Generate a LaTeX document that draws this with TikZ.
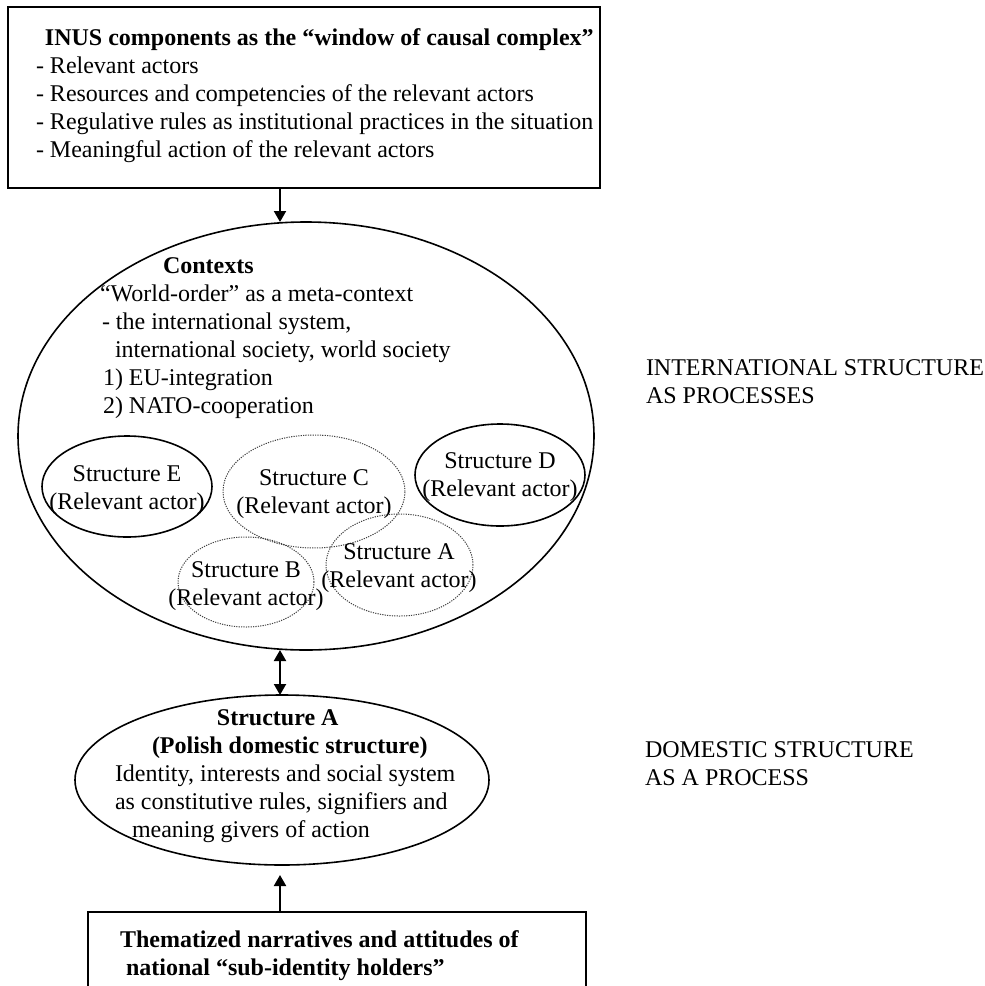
\documentclass[tikz,border=0pt]{standalone}
\usepackage{fontspec}
\setmainfont{Liberation Serif}
\usetikzlibrary{arrows.meta,shapes.geometric}
% rows of text whose first baseline is the node's base line
\newcommand\txtrows[2]{\begin{tabular}[t]{@{}#1@{}}#2\end{tabular}}
\begin{document}
\begin{tikzpicture}[x=0.5pt,y=-0.5pt,
  every node/.style={inner sep=0pt,outer sep=0pt},
  txt/.style={anchor=base west,font=\fontsize{12pt}{14pt}\selectfont},
  ctxt/.style={anchor=base,font=\fontsize{12pt}{14pt}\selectfont},
  framebox/.style={draw,rectangle,line width=1pt},
  solidell/.style={draw,ellipse,line width=0.8pt},
  dotell/.style={draw,ellipse,line width=0.5pt,black!75,dash pattern=on 0.6pt off 0.6pt},
  tip/.tip={Triangle[length=5.5pt,width=6pt]},
  link/.style={line width=1pt,-tip},
]
\useasboundingbox (0,0) rectangle (985,986);
\clip (0,0) rectangle (985,986);

% vertical axis shared by the three connectors
\coordinate (axis) at (280,0);

% INUS box
\node[framebox,minimum width=296pt,minimum height=90.5pt] (topbox) at (304,97.5) {};
\node[txt] (toptext) at (36,45) {\txtrows{l}{%
  \hspace{4.5pt}\textbf{INUS components as the “window of causal complex”}\\
  - Relevant actors\\
  - Resources and competencies of the relevant actors\\
  - Regulative rules as institutional practices in the situation\\
  - Meaningful action of the relevant actors}};

% contexts ellipse
\node[solidell,minimum width=288pt,minimum height=214pt] (ctx) at (306,436) {};
\node[txt] (ctxtext) at (100,273) {\txtrows{l}{%
  \hspace{31.5pt}\textbf{Contexts}\\
  “World-order” as a meta-context\\
  \hspace{1pt}- the international system,\\
  \hspace{7.5pt}international society, world society\\
  \hspace{1.5pt}1) EU-integration\\
  \hspace{1.5pt}2) NATO-cooperation}};

% structures inside the contexts
\node[solidell,minimum width=85pt,minimum height=50.5pt] (se) at (127,486.5) {};
\node[dotell,minimum width=91pt,minimum height=56.5pt] (sc) at (314,491.5) {};
\node[dotell,minimum width=68pt,minimum height=45pt] (sb) at (246,582) {};
\node[dotell,minimum width=73.5pt,minimum height=51pt] (sa) at (399.5,565) {};
\node[solidell,minimum width=85pt,minimum height=51pt] (sd) at (500,475) {};

\node[ctxt] (setext) at (127,481) {\txtrows{c}{Structure E\\(Relevant actor)}};
\node[ctxt] (sctext) at (314,485) {\txtrows{c}{Structure C\\(Relevant actor)}};
\node[ctxt] (sbtext) at (246,577) {\txtrows{c}{Structure B\\(Relevant actor)}};
\node[ctxt] (satext) at (399,559) {\txtrows{c}{Structure A\\(Relevant actor)}};
\node[ctxt] (sdtext) at (500,468) {\txtrows{c}{Structure D\\(Relevant actor)}};

% domestic structure
\node[solidell,minimum width=207pt,minimum height=85pt] (dom) at (282,780) {};
\node[txt] (domtext) at (115,725) {\txtrows{l}{%
  \hspace{51pt}\textbf{Structure A}\\
  \hspace{18.5pt}\textbf{(Polish domestic structure)}\\
  Identity, interests and social system\\
  as constitutive rules, signifiers and\\
  \hspace{8.5pt}meaning givers of action}};

% narratives box, running past the lower edge
\node[framebox,minimum width=249pt,minimum height=49pt] (bot) at (337,961) {};
\node[txt] (bottext) at (120,947) {\txtrows{l}{%
  \textbf{Thematized narratives and attitudes of}\\
  \hspace{3pt}\textbf{national “sub-identity holders”}}};

% level labels
\node[txt] (intl) at (646,375) {\txtrows{l}{INTERNATIONAL STRUCTURE\\AS PROCESSES}};
\node[txt] (dmst) at (645,757) {\txtrows{l}{DOMESTIC STRUCTURE\\AS A PROCESS}};

% connectors
\draw[link] (topbox.south -| axis) -- (ctx.north -| axis);
\draw[link,tip-tip] (ctx.south -| axis) -- (dom.north -| axis);
\draw[link,shorten >=5pt] (bot.north -| axis) -- (dom.south -| axis);
\end{tikzpicture}
\end{document}
